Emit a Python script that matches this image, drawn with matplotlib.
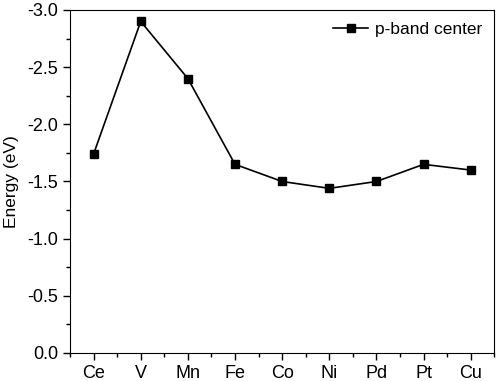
import numpy as np
import matplotlib.pyplot as plt
from matplotlib.ticker import MultipleLocator

plt.rcParams['font.family'] = ['Liberation Sans', 'DejaVu Sans']

# data
metals = ["Ce", "V", "Mn", "Fe", "Co", "Ni", "Pd", "Pt", "Cu"]
p_band = [-1.74, -2.90, -2.40, -1.65, -1.50, -1.44, -1.50, -1.65, -1.60]

fig = plt.figure(figsize=(4.98, 3.81), dpi=100)
ax = fig.add_axes([0.1406, 0.0735, 0.852, 0.9003])

x = np.arange(1, len(metals) + 1)
ax.plot(x, p_band, "k-", marker="s", ms=6, lw=1.2, label="p-band center")

ax.set_xlim(0.5, len(metals) + 0.5)
ax.set_ylim(0, -3.0)
ax.set_xticks(x)
ax.set_xticklabels(metals)
ax.xaxis.set_minor_locator(MultipleLocator(0.5))
ax.yaxis.set_major_locator(MultipleLocator(0.5))
ax.yaxis.set_minor_locator(MultipleLocator(0.25))
ax.yaxis.set_major_formatter(plt.FormatStrFormatter("%.1f"))
ax.tick_params(which="major", direction="out", length=5, width=1, labelsize=13)
ax.tick_params(which="minor", direction="out", length=3, width=1)
ax.set_ylabel("Energy (eV)", fontsize=12.5, labelpad=6)

ax.legend(loc="upper right", frameon=False, fontsize=12.5, handlelength=2.0,
          handletextpad=0.4, borderaxespad=0.3)

fig.savefig("out.png", dpi=100)
